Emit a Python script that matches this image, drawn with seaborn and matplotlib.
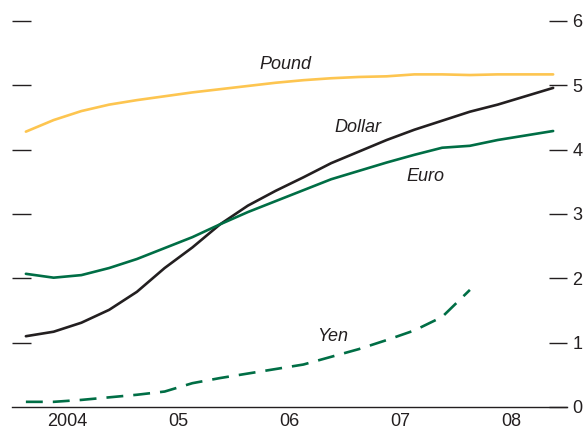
import numpy as np
import pandas as pd
import matplotlib
matplotlib.use('Agg')
import matplotlib.pyplot as plt
import seaborn as sns

# --- data: quarterly, 2004Q1 - 2008Q4 ---
quarters = ['2004Q1', '2004Q2', '2004Q3', '2004Q4',
            '2005Q1', '2005Q2', '2005Q3', '2005Q4',
            '2006Q1', '2006Q2', '2006Q3', '2006Q4',
            '2007Q1', '2007Q2', '2007Q3', '2007Q4',
            '2008Q1', '2008Q2', '2008Q3', '2008Q4']

pound = [4.28, 4.46, 4.60, 4.70, 4.77, 4.83, 4.89, 4.94, 4.99, 5.04,
         5.08, 5.11, 5.13, 5.14, 5.17, 5.17, 5.16, 5.17, 5.17, 5.17]
dollar = [1.10, 1.17, 1.31, 1.51, 1.79, 2.16, 2.48, 2.84, 3.13, 3.36,
          3.57, 3.79, 3.97, 4.15, 4.31, 4.45, 4.59, 4.70, 4.83, 4.96]
euro = [2.07, 2.01, 2.05, 2.16, 2.30, 2.47, 2.64, 2.84, 3.03, 3.20,
        3.37, 3.54, 3.67, 3.80, 3.92, 4.03, 4.06, 4.15, 4.22, 4.29]
yen = [0.08, 0.08, 0.11, 0.15, 0.19, 0.24, 0.37, 0.45, 0.52, 0.59,
       0.66, 0.78, 0.90, 1.04, 1.19, 1.40, 1.82]

year_labels = ['2004', '05', '06', '07', '08']

# mid-quarter position on a year axis
pq = pd.PeriodIndex(quarters, freq='Q')
xpos = pq.year + (pq.quarter - 0.5) / 4

df = pd.DataFrame({'x': xpos, 'Pound': pound, 'Dollar': dollar, 'Euro': euro})
df_yen = pd.DataFrame({'x': xpos[:len(yen)], 'Yen': yen})

sns.set_style('white')
plt.rcParams['font.family'] = ['Liberation Sans Narrow', 'Liberation Sans', 'DejaVu Sans']

fig = plt.figure(figsize=(5.83, 4.32), dpi=100)
ax = fig.add_axes([0.0206, 0.0579, 0.952, 0.8935])

green = '#006e45'
sns.lineplot(data=df, x='x', y='Pound', color='#fdc550', lw=1.9, ax=ax)
sns.lineplot(data=df, x='x', y='Dollar', color='#231f20', lw=1.9, ax=ax)
sns.lineplot(data=df, x='x', y='Euro', color=green, lw=1.9, ax=ax)
sns.lineplot(data=df_yen, x='x', y='Yen', color=green, lw=1.9, ax=ax)
ax.lines[-1].set_dashes([6.4, 3.8])

ax.set_xlim(2004, 2009)
ax.set_ylim(0, 6)
ax.set_xlabel('')
ax.set_ylabel('')

# x axis: year boundaries as ticks, labels centered in each year
ax.set_xticks(range(2004, 2010))
ax.set_xticklabels([])
ax.set_xticks([2004.5 + i for i in range(len(year_labels))], minor=True)
ax.set_xticklabels(year_labels, minor=True, fontsize=13, color='#231f20')
ax.tick_params(axis='x', which='major', direction='in', length=9, width=1, color='#231f20')
ax.tick_params(axis='x', which='minor', length=0, pad=4)

# y axis: unlabeled left ticks, labeled right ticks
ax.set_yticks(range(1, 7))
ax.set_yticklabels([])
ax.tick_params(axis='y', direction='in', length=14, width=1, color='#231f20', left=True)
ax2 = ax.twinx()
ax2.set_ylim(0, 6)
ax2.set_yticks(range(0, 7))
ax2.set_yticklabels([str(v) for v in range(0, 7)], fontsize=13, color='#231f20')
ax2.tick_params(axis='y', direction='in', length=13, width=1, color='#231f20', pad=4)

for a in (ax, ax2):
    for s in ('top', 'left', 'right'):
        a.spines[s].set_visible(False)
ax2.spines['bottom'].set_visible(False)
ax.spines['bottom'].set_color('#231f20')
ax.spines['bottom'].set_linewidth(1)

lab = dict(fontsize=13, style='italic', color='#231f20', ha='center', va='center')
ax.text(2006.46, 5.32, 'Pound', **lab)
ax.text(2007.12, 4.34, 'Dollar', **lab)
ax.text(2007.72, 3.59, 'Euro', **lab)
ax.text(2006.89, 1.09, 'Yen', **lab)

plt.savefig('out.png', dpi=100)
plt.close()
